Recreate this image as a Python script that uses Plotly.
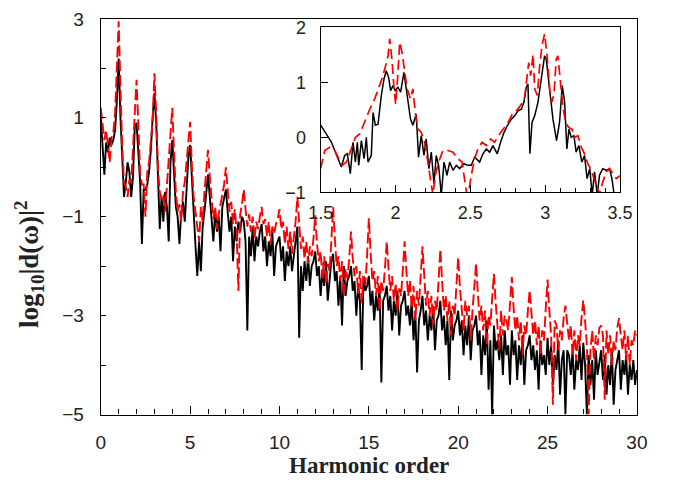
import plotly.graph_objects as go

# ---------------- main spectrum (harmonic order 0..30, step 0.1) ----------------
STEP = 0.1
black_main = [
    1.0, 0.45, -0.15, 0.5, 0.3, 0.6, 0.45, 0.55, 0.75, 1.35,
    2.2, 1.0, 0.0, -0.6, -0.3, 0.1, -0.1, -0.6, -0.2, 0.8,
    0.9, 0.3, -0.3, -1.55, -0.45, -0.45, -0.35, -0.1, 0.35, 1.0,
    1.5, 0.9, -0.3, -1.25, -0.6, -1.1, -0.5, -0.8, -1.5, 0.1,
    0.55, -0.2, -0.8, -1.0, -1.55, -0.9, -0.7, -1.1, -0.5, 0.2,
    0.45, -0.3, -0.9, -1.6, -2.2, -1.5, -2.1, -1.2, -0.9, -0.5,
    -0.15, -0.6, -1.0, -1.5, -0.9, -1.3, -1.0, -1.7, -0.8, -0.6,
    -0.45, -0.9, -1.3, -1.0, -1.9, -1.2, -1.5, -1.1, -1.3, -1.0,
    -1.1, -1.5, -3.3, -1.4, -1.8, -1.2, -1.9, -1.4, -1.6, -1.3,
    -1.15, -1.7, -1.4, -2.0, -1.5, -1.8, -1.3, -2.2, -1.6, -1.5,
    -1.4, -1.9, -1.6, -2.3, -1.7, -2.0, -1.6, -2.1, -1.8, -1.5,
    -1.2, -3.45, -2.0, -2.5, -1.9, -2.3, -1.8, -2.4, -2.0, -1.9,
    -1.7, -2.2, -2.0, -2.6, -2.1, -2.4, -1.9, -2.7, -2.2, -1.9,
    -1.75, -2.3, -2.1, -2.8, -2.2, -3.2, -2.0, -2.6, -2.3, -2.2,
    -2.0, -2.5, -2.3, -3.0, -2.4, -2.7, -4.1, -2.2, -2.5, -2.4,
    -2.2, -2.8, -2.5, -3.1, -2.6, -2.9, -2.4, -4.35, -2.7, -2.6,
    -2.4, -2.9, -2.6, -3.3, -2.7, -3.0, -2.5, -3.4, -2.8, -2.7,
    -2.5, -3.0, -2.8, -3.2, -2.7, -3.5, -2.9, -4.15, -3.1, -2.9,
    -2.6, -3.2, -2.9, -3.5, -3.0, -3.3, -2.8, -3.7, -3.1, -3.0,
    -2.7, -3.3, -3.0, -3.6, -3.1, -4.3, -2.9, -3.5, -3.2, -3.1,
    -2.9, -3.4, -3.1, -3.8, -3.2, -3.6, -3.0, -3.9, -3.3, -3.2,
    -3.0, -3.6, -3.3, -4.2, -3.4, -3.8, -3.1, -4.5, -3.5, -5.0,
    -3.2, -3.7, -3.5, -3.9, -3.4, -4.2, -3.3, -3.8, -3.6, -4.4,
    -3.3, -3.8, -3.5, -4.3, -3.6, -4.0, -3.4, -4.4, -3.7, -3.6,
    -3.4, -3.9, -3.6, -4.1, -3.7, -4.5, -3.5, -4.0, -3.8, -4.2,
    -3.45, -4.0, -3.6, -4.4, -3.8, -4.1, -3.5, -4.6, -3.9, -3.7,
    -5.0, -3.7, -3.8, -4.2, -3.7, -4.5, -3.9, -4.1, -3.6, -4.3,
    -3.55, -4.0, -5.0, -3.8, -4.4, -3.9, -4.7, -3.7, -4.2, -3.9,
    -3.7, -4.3, -3.8, -4.6, -4.0, -4.4, -3.7, -4.8, -4.1, -3.9,
    -3.7, -4.5, -3.9, -4.2, -3.8, -4.6, -4.0, -4.3, -3.9, -4.4,
    -4.1,
]
red_main = [
    1.2, 0.8, 0.55, 0.75, 0.4, 0.1, 0.6, 0.7, 1.1, 2.0,
    2.95, 1.6, 0.4, -0.3, -0.4, -0.6, -0.25, -0.3, 0.35, 1.0,
    1.77, 0.86, -0.1, -0.35, -0.35, -1.0, -0.1, 0.1, 0.53, 0.95,
    1.9, 1.1, -0.05, -0.5, -0.65, -0.55, -0.9, -0.4, 0.3, 0.8,
    1.2, 0.3, -0.5, -0.9, -0.75, -1.1, -0.5, -0.3, 0.1, 0.5,
    0.92, 0.0, -0.6, -0.9, -1.2, -1.5, -0.8, -1.1, -0.5, -0.1,
    0.35, -0.2, -0.7, -1.05, -0.8, -1.25, -0.95, -0.7, -0.55, -0.35,
    0.0, -0.45, -0.9, -0.7, -1.15, -0.85, -1.3, -2.5, -0.95, -0.75,
    -0.45, -0.85, -1.2, -0.95, -1.3, -1.0, -1.45, -1.1, -1.25, -1.0,
    -0.8, -1.15, -1.05, -1.4, -1.1, -1.55, -1.2, -1.35, -1.15, -1.05,
    -0.85, -1.25, -1.1, -1.55, -1.2, -1.65, -1.3, -1.75, -1.4, -1.1,
    -0.6, -1.15, -1.65, -1.4, -1.85, -1.5, -1.95, -1.6, -1.8, -1.45,
    -0.97, -1.55, -1.9, -1.7, -2.25, -1.8, -2.35, -1.95, -2.1, -1.5,
    -0.8, -1.45, -2.0, -1.8, -2.3, -1.9, -2.6, -2.05, -2.25, -1.85,
    -1.3, -1.85, -2.2, -2.0, -2.55, -2.1, -2.75, -2.2, -2.4, -1.8,
    -1.03, -1.75, -2.3, -2.1, -2.6, -2.2, -2.9, -2.3, -2.5, -2.05,
    -1.5, -2.05, -2.5, -2.2, -2.7, -2.35, -2.9, -2.45, -2.6, -2.1,
    -1.5, -2.1, -2.6, -2.3, -2.85, -2.4, -3.1, -2.5, -2.8, -2.2,
    -1.6, -2.2, -2.8, -2.5, -3.0, -2.6, -3.2, -2.7, -2.9, -2.3,
    -1.66, -2.3, -2.9, -2.6, -3.1, -2.7, -3.4, -2.8, -3.0, -2.4,
    -1.82, -2.45, -2.9, -3.3, -2.7, -3.0, -2.8, -3.5, -2.9, -2.5,
    -1.94, -2.55, -3.1, -2.8, -3.3, -2.9, -3.6, -3.0, -3.2, -2.65,
    -2.16, -2.75, -3.2, -3.7, -2.9, -3.4, -3.0, -3.1, -3.3, -2.75,
    -2.22, -2.85, -3.3, -3.0, -3.5, -3.1, -3.8, -3.2, -3.4, -2.9,
    -2.49, -2.95, -3.4, -3.1, -3.6, -3.2, -3.8, -3.3, -3.5, -2.85,
    -2.27, -2.9, -3.4, -4.8, -3.1, -3.2, -3.7, -3.3, -3.5, -3.05,
    -2.8, -3.15, -3.5, -3.2, -3.8, -3.3, -3.9, -3.4, -3.6, -3.05,
    -2.69, -3.1, -3.6, -5.0, -3.7, -3.3, -3.9, -3.4, -3.6, -3.25,
    -3.2, -3.4, -4.7, -3.3, -3.8, -3.4, -4.0, -3.5, -3.7, -3.25,
    -3.05, -3.4, -3.7, -3.3, -3.9, -3.4, -4.0, -3.5, -3.6, -3.3,
    -3.4,
]
harmonic = [round(i * STEP, 1) for i in range(len(black_main))]

# ---------------- inset (harmonic order 1.5..3.5) ----------------
inset_black_x = [
    1.50, 1.571, 1.638, 1.66, 1.678, 1.698, 1.716, 1.732, 1.745, 1.754,
    1.772, 1.79, 1.805, 1.816, 1.838, 1.85, 1.865, 1.883, 1.905, 1.923,
    1.938, 1.954, 1.967, 1.983, 1.998, 2.016, 2.034, 2.056, 2.078, 2.10,
    2.116, 2.138, 2.154, 2.172, 2.19, 2.205, 2.223, 2.239, 2.257, 2.272,
    2.288, 2.306, 2.324, 2.344, 2.362, 2.384, 2.406, 2.428, 2.457, 2.484,
    2.506, 2.529, 2.562, 2.584, 2.607, 2.629, 2.651, 2.68, 2.702, 2.725,
    2.747, 2.774, 2.796, 2.818, 2.841, 2.858, 2.874, 2.885, 2.898, 2.912,
    2.93, 2.952, 2.974, 2.996, 3.007, 3.03, 3.052, 3.076, 3.096, 3.114,
    3.13, 3.145, 3.159, 3.174, 3.192, 3.207, 3.225, 3.245, 3.263, 3.28,
    3.298, 3.314, 3.33, 3.348, 3.363, 3.385, 3.408, 3.43, 3.446, 3.464,
    3.50,
]
inset_black_y = [
    0.22, -0.085, -0.54, -0.33, -0.30, -0.66, -0.09, -0.45, -0.09, -0.51,
    -0.06, -0.39, 0.0, -0.45, -0.33, 0.45, 0.22, 0.24, 0.76, 1.06,
    1.21, 1.09, 0.85, 0.94, 0.85, 0.91, 0.82, 1.18, 0.76, 0.33,
    0.22, 0.42, -0.36, 0.03, -0.33, -0.03, -0.57, -0.27, -0.85, -0.33,
    -0.51, -1.05, -0.45, -0.69, -0.45, -0.60, -0.51, -0.57, -0.48, -0.51,
    -0.51, -0.36, -0.45, -0.30, -0.21, -0.27, -0.15, -0.30, -0.09, 0.09,
    0.21, 0.33, 0.39, 0.48, 0.51, 0.64, 0.91, 0.97, -0.30, 0.27,
    0.39, 0.64, 1.06, 1.48, 1.42, 0.88, 0.33, -0.06, 0.27, 0.94,
    0.64, -0.21, 0.15, 0.0, 0.03, -0.27, -0.15, -0.45, -0.33, -0.75,
    -0.57, -1.05, -0.63, -1.05, -0.69, -0.57, -0.60, -0.57, -0.75, -1.1,
    -1.2,
]
inset_red_x = [
    1.50, 1.527, 1.56, 1.594, 1.616, 1.643, 1.672, 1.705, 1.732, 1.761,
    1.794, 1.828, 1.861, 1.883, 1.905, 1.928, 1.95, 1.961, 1.976, 1.99,
    2.001, 2.012, 2.028, 2.043, 2.061, 2.078, 2.10, 2.116, 2.132, 2.15,
    2.172, 2.194, 2.216, 2.234, 2.25, 2.266, 2.288, 2.317, 2.35, 2.384,
    2.417, 2.444, 2.462, 2.477, 2.492, 2.506, 2.529, 2.551, 2.578, 2.607,
    2.636, 2.662, 2.696, 2.725, 2.752, 2.785, 2.814, 2.841, 2.863, 2.876,
    2.89, 2.903, 2.919, 2.93, 2.948, 2.963, 2.979, 2.996, 3.012, 3.03,
    3.045, 3.059, 3.074, 3.085, 3.101, 3.119, 3.137, 3.157, 3.179, 3.197,
    3.219, 3.241, 3.263, 3.285, 3.303, 3.325, 3.348, 3.363, 3.385, 3.408,
    3.43, 3.452, 3.475, 3.50,
]
inset_red_y = [
    -0.57, -0.24, -0.18, -0.24, -0.36, -0.51, -0.45, -0.21, 0.0, 0.06,
    0.30, 0.51, 0.70, 0.85, 1.03, 1.24, 1.48, 1.79, 1.42, 0.88,
    0.60, 1.00, 1.73, 1.55, 1.18, 0.88, 0.70, 0.88, 0.45, 0.15,
    0.09, -0.09, -0.45, -0.75, -1.05, -0.69, -0.45, -0.24, -0.24, -0.27,
    -0.39, -0.45, -0.75, -1.05, -0.94, -0.69, -0.39, -0.21, -0.09, -0.15,
    -0.03, -0.09, 0.06, 0.18, 0.27, 0.45, 0.50, 0.60, 0.73, 1.03,
    1.36, 1.12, 1.51, 0.88, 0.76, 1.30, 1.67, 1.88, 1.51, 0.88,
    0.64, 0.79, 1.42, 1.48, 1.03, 0.54, 0.27, 0.18, 0.15, 0.0,
    0.03, -0.18, -0.30, -0.48, -0.57, -0.75, -0.94, -1.03, -0.81, -0.63,
    -0.57, -0.66, -0.75, -0.70,
]

main_x_ticks = [0, 5, 10, 15, 20, 25, 30]
main_y_ticks = [-5, -4, -3, -2, -1, 0, 1, 2, 3]
main_y_text = ["\u22125", "", "\u22123", "", "\u22121", "", "1", "", "3"]
inset_x_ticks = [1.5, 2, 2.5, 3, 3.5]
inset_x_text = ["1.5", "2", "2.5", "3", "3.5"]
inset_y_ticks = [-1, 0, 1, 2]
inset_y_text = ["\u22121", "0", "1", "2"]

RED = "#ff0000"
SANS = "Liberation Sans, Arial, sans-serif"
SERIF = "Liberation Serif, Times New Roman, serif"

# The page body has an 8px margin, so the figure is 8px smaller than the window.
W, H = 667, 472

fig = go.Figure()
fig.add_trace(go.Scatter(x=harmonic, y=black_main, mode="lines",
                         line=dict(color="black", width=1.9),
                         xaxis="x", yaxis="y"))
fig.add_trace(go.Scatter(x=harmonic, y=red_main, mode="lines",
                         line=dict(color=RED, width=1.9, dash="11px,4px"),
                         xaxis="x", yaxis="y"))
fig.add_trace(go.Scatter(x=inset_black_x, y=inset_black_y, mode="lines",
                         line=dict(color="black", width=1.5),
                         xaxis="x2", yaxis="y2"))
fig.add_trace(go.Scatter(x=inset_red_x, y=inset_red_y, mode="lines",
                         line=dict(color=RED, width=1.7, dash="10px,5px"),
                         xaxis="x2", yaxis="y2"))

axis_common = dict(showgrid=False, zeroline=False, showline=True,
                   linecolor="black", linewidth=1.4, mirror=True,
                   ticks="inside", tickcolor="black", tickwidth=1.2,
                   automargin=False)

fig.update_layout(
    width=W, height=H,
    margin=dict(l=0, r=0, t=0, b=0, autoexpand=False),
    paper_bgcolor="white", plot_bgcolor="white",
    showlegend=False,
    xaxis=dict(domain=[92.8 / W, 628.9 / W], range=[0, 30], anchor="y",
               tickvals=main_x_ticks, ticklen=8,
               minor=dict(dtick=1, ticks="inside", ticklen=5,
                          tickcolor="black", tickwidth=1.1),
               tickfont=dict(family=SANS, size=19, color="#222"),
               ticklabelstandoff=10, **axis_common),
    yaxis=dict(domain=[(H - 406.5) / H, (H - 10.9) / H], range=[-5, 3],
               anchor="x",
               tickvals=main_y_ticks, ticktext=main_y_text, ticklen=5,
               tickfont=dict(family=SANS, size=19, color="#222"),
               ticklabelstandoff=12, **axis_common),
    xaxis2=dict(domain=[312.7 / W, 612.0 / W], range=[1.5, 3.5], anchor="y2",
                tickvals=inset_x_ticks, ticktext=inset_x_text, ticklen=7,
                minor=dict(dtick=0.1, ticks="inside", ticklen=4,
                           tickcolor="black", tickwidth=1.1),
                tickfont=dict(family=SANS, size=18, color="#222"),
                ticklabelstandoff=4, **axis_common),
    yaxis2=dict(domain=[(H - 184.3) / H, (H - 19.3) / H], range=[-1, 2],
                anchor="x2",
                tickvals=inset_y_ticks, ticktext=inset_y_text, ticklen=7,
                tickfont=dict(family=SANS, size=18, color="#222"),
                ticklabelstandoff=10, **axis_common),
    annotations=[
        dict(text="<b>Harmonic order</b>", xref="paper", yref="paper",
             x=360.9 / W, y=(H - 457) / H, xanchor="center",
             yanchor="middle", showarrow=False,
             font=dict(family=SERIF, size=23, color="#222")),
        dict(text="<b>log<sub>10</sub>|d(\u03c9)|<sup>2</sup></b>",
             xref="paper", yref="paper", x=21 / W, y=(H - 256) / H,
             xanchor="center", yanchor="middle", textangle=-90,
             showarrow=False,
             font=dict(family=SERIF, size=27, color="#222")),
    ],
)

fig.write_html("out.html")
